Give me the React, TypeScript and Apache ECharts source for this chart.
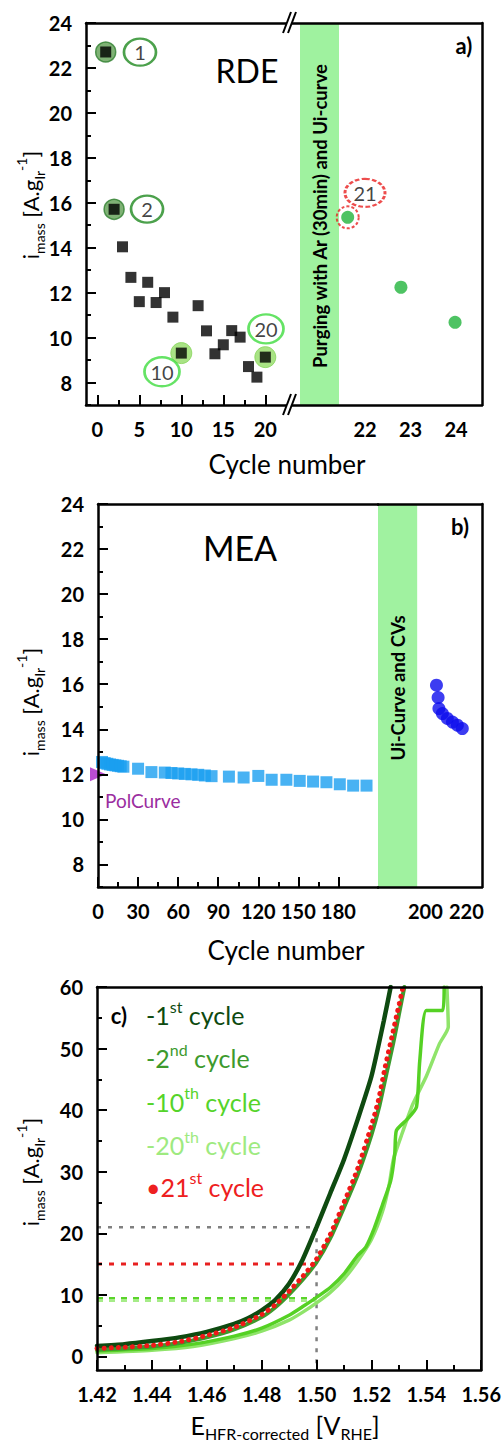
import React, { useEffect, useRef } from "react";
import * as echarts from "echarts";

const FONT = "Lato, 'Open Sans', sans-serif";

// ---------- Panel a (RDE) ----------
const rdeCycles = [1, 2, 3, 4, 5, 6, 7, 8, 9, 10, 12, 13, 14, 15, 16, 17, 18, 19, 20];
const rdeImass = [22.71, 15.71, 14.04, 12.68, 11.6, 12.46, 11.56, 12.0, 10.91, 9.31, 11.42, 10.3, 9.28, 9.68, 10.31, 10.02, 8.71, 8.24, 9.13];
const rdeMarkedEarly = [1, 2];
const rdeMarkedLate = [10, 20];
const rdeAfterCycles = [21.62, 22.79, 23.98];
const rdeAfterImass = [15.35, 12.24, 10.68];
const rdeTagText = ["1", "2", "10", "20"];
const rdeTagX = [5.08, 5.92, 7.7, 20.08];
const rdeTagY = [22.7, 15.72, 8.48, 10.39];
const rdeTag21Pos = [22.0, 16.44];
const rdePurge = [20.572, 21.429];
const rdeXLeft = [-1.345, 22.7];
const rdeXRight = [20.308, 24.572];
const rdeTicksLeft = [0, 5, 10, 15, 20];
const rdeMinorLeft = [2.5, 7.5, 12.5, 17.5];
const rdeTicksRight = [22, 23, 24];
const imassRange = [7, 24];
const imassTicks = [8, 10, 12, 14, 16, 18, 20, 22, 24];
const imassMinor = [7, 9, 11, 13, 15, 17, 19, 21, 23];

// ---------- Panel b (MEA) ----------
const meaCycles = [3, 5, 7, 9, 11, 13, 15, 17, 19, 30, 40, 50, 55, 60, 65, 70, 75, 80, 85, 98, 109, 120, 130, 141, 151, 161, 171, 181, 191, 201];
const meaImass = [12.55, 12.5, 12.47, 12.44, 12.42, 12.4, 12.38, 12.36, 12.34, 12.25, 12.1, 12.08, 12.06, 12.04, 12.02, 12.0, 11.98, 11.95, 11.92, 11.9, 11.86, 11.93, 11.76, 11.76, 11.71, 11.68, 11.65, 11.56, 11.5, 11.5];
const polCycle = [0];
const polImass = [12.0];
const meaAfterCycles = [205.4, 206.2, 206.6, 208.3, 210.7, 213.2, 215.6, 218.0];
const meaAfterImass = [15.96, 15.41, 14.92, 14.7, 14.48, 14.32, 14.18, 14.03];
const meaXLeft = [0, 209.6];
const meaXRight = [176.9, 227.6];
const meaBandEnd = 196;
const meaTicks = [0, 30, 60, 90, 120, 150, 180];
const meaMinor = [15, 45, 75, 105, 135, 165];
const meaTicksRight = [200, 220];

// ---------- Panel c (polarisation curves) ----------
const eRange = [1.42, 1.56];
const iRange = [-2.2, 60];
const eTicks = [1.42, 1.44, 1.46, 1.48, 1.5, 1.52, 1.54, 1.56];
const eMinor = [1.43, 1.45, 1.47, 1.49, 1.51, 1.53, 1.55];
const iTicks = [0, 10, 20, 30, 40, 50, 60];
const iMinor = [5, 15, 25, 35, 45, 55];

const c1E = [1.42, 1.43, 1.44, 1.45, 1.46, 1.47, 1.475, 1.48, 1.485, 1.49, 1.495, 1.5, 1.505, 1.51, 1.515, 1.52, 1.5245, 1.527];
const c1I = [1.7, 2.0, 2.5, 3.1, 4.0, 5.3, 6.2, 7.5, 9.2, 11.8, 15.8, 21.0, 26.5, 32.0, 38.5, 45.5, 54.5, 60];
const c2E = [1.42, 1.43, 1.44, 1.45, 1.46, 1.47, 1.48, 1.485, 1.49, 1.495, 1.5, 1.505, 1.51, 1.515, 1.52, 1.5228, 1.5255, 1.528, 1.53, 1.532];
const c2I = [1.1, 1.3, 1.6, 2.2, 3.1, 4.4, 6.4, 8.0, 10.1, 12.5, 15.3, 19.2, 24.2, 29.5, 36.0, 40.5, 46.0, 51.0, 55.5, 60];
const c10E = [1.42, 1.44, 1.455, 1.47, 1.48, 1.49, 1.495, 1.5, 1.505, 1.51, 1.515, 1.518, 1.521, 1.524, 1.527, 1.5285, 1.5291, 1.533, 1.5364, 1.5376, 1.54, 1.546, 1.5465];
const c10I = [0.9, 1.3, 2.0, 3.3, 4.6, 6.7, 8.1, 9.6, 11.2, 13.4, 16.4, 17.8, 20.8, 24.6, 28.5, 33.0, 36.7, 38.5, 40.5, 48.0, 56.2, 56.2, 60];
const c20E = [1.42, 1.44, 1.455, 1.47, 1.48, 1.49, 1.495, 1.5, 1.505, 1.51, 1.515, 1.52, 1.524, 1.5265, 1.528, 1.531, 1.5351, 1.54, 1.5448, 1.548, 1.5475];
const c20I = [0.6, 1.0, 1.6, 2.9, 4.1, 5.9, 7.2, 8.7, 10.4, 12.6, 15.5, 19.0, 23.5, 28.0, 32.0, 36.0, 41.0, 45.5, 50.8, 53.5, 60];
const c21E = [1.42, 1.43, 1.44, 1.45, 1.46, 1.47, 1.48, 1.485, 1.49, 1.495, 1.5, 1.505, 1.51, 1.515, 1.52, 1.5225, 1.525, 1.5275, 1.5295, 1.5315];
const c21I = [1.3, 1.5, 1.8, 2.4, 3.4, 4.7, 6.8, 8.4, 10.6, 13.0, 15.8, 19.8, 25.0, 30.5, 37.5, 41.5, 47.0, 52.0, 56.0, 60];
const refPotential = 1.5;
const refCurrents = [21, 15, 9.4, 9.1];

// ---------- helpers ----------
const AXL = { color: "#000", width: 2.5 };
const ELLIPSE =
  "path://M50,0C77.6,0,100,22.4,100,50C100,77.6,77.6,100,50,100C22.4,100,0,77.6,0,50C0,22.4,22.4,0,50,0Z";

function baseAxis(o: any) {
  return {
    type: "value",
    z: 10,
    splitLine: { show: false },
    axisLine: { show: false, onZero: false },
    axisTick: { show: false },
    axisLabel: { show: false },
    ...o,
  };
}
function lineAxis(gridIndex: number, position: string, range: number[]) {
  return baseAxis({ gridIndex, position, min: range[0], max: range[1], axisLine: { show: true, onZero: false, lineStyle: AXL } });
}
function labelAxis(gridIndex: number, position: string, range: number[], labels: number[], ticks: boolean, fmt?: (v: number) => string) {
  return baseAxis({
    gridIndex,
    position,
    min: range[0],
    max: range[1],
    axisLine: { show: true, onZero: false, lineStyle: AXL },
    axisTick: ticks
      ? { show: true, inside: true, length: 10, lineStyle: { color: "#000", width: 2 }, customValues: labels }
      : { show: false },
    axisLabel: {
      show: true,
      customValues: labels,
      margin: 14,
      fontFamily: FONT,
      fontSize: 20,
      fontWeight: "bold",
      color: "#000",
      formatter: fmt || ((v: number) => String(v)),
    },
  });
}
function minorAxis(gridIndex: number, position: string, range: number[], ticks: number[]) {
  return baseAxis({
    gridIndex,
    position,
    min: range[0],
    max: range[1],
    axisTick: { show: true, inside: true, length: 5, lineStyle: { color: "#000", width: 2 }, customValues: ticks },
  });
}
function txt(x: number, y: number, text: string, o: any = {}, rotation = 0) {
  return {
    type: "text",
    x,
    y,
    rotation,
    z: 100,
    style: {
      text,
      fontFamily: FONT,
      fontSize: 20,
      fill: "#000",
      textAlign: "center",
      textVerticalAlign: "middle",
      ...o,
    },
  };
}
function breakMark(cx: number, cy: number) {
  return {
    type: "group",
    z: 100,
    children: [
      { type: "polygon", z: 100, shape: { points: [[cx - 6.5, cy + 10], [cx - 1.5, cy + 10], [cx + 6.5, cy - 11], [cx + 1.5, cy - 11]] }, style: { fill: "#fff" } },
      { type: "line", z: 101, shape: { x1: cx - 6.5, y1: cy + 10, x2: cx + 1.5, y2: cy - 11 }, style: { stroke: "#000", lineWidth: 2 } },
      { type: "line", z: 101, shape: { x1: cx - 1.5, y1: cy + 10, x2: cx + 6.5, y2: cy - 11 }, style: { stroke: "#000", lineWidth: 2 } },
    ],
  };
}
const pair = (xs: number[], ys: number[]) => xs.map((x, i) => [x, ys[i]]);

const yNameRich = {
  b: { fontFamily: FONT, fontSize: 22, lineHeight: 32, fill: "#000" },
  s: { fontFamily: FONT, fontSize: 14, lineHeight: 14, verticalAlign: "bottom", fill: "#000" },
  p: { fontFamily: FONT, fontSize: 14, lineHeight: 14, verticalAlign: "top", fill: "#000" },
};
const yNameText = "{b|i}{s|mass}{b| [A.g}{s|Ir}{p|-1}{b|]}";

function legendEntry(y: number, pre: string, sup: string, color: string) {
  return txt(146, y, `{b|${pre}}{p|${sup}}{b| cycle}`, {
    textAlign: "left",
    rich: {
      b: { fontFamily: FONT, fontSize: 25, lineHeight: 34, fill: color },
      p: { fontFamily: FONT, fontSize: 16, lineHeight: 16, verticalAlign: "top", fill: color },
    },
  });
}

function buildOption(): any {
  const grids = [
    { left: 86, top: 23, width: 202, height: 382 },
    { left: 288, top: 23, width: 194, height: 382 },
    { left: 98, top: 504, width: 280, height: 383 },
    { left: 378, top: 504, width: 104, height: 383 },
    { left: 97, top: 987, width: 385, height: 383 },
  ];

  const xAxis = [
    labelAxis(0, "bottom", rdeXLeft, rdeTicksLeft, true), // 0
    minorAxis(0, "bottom", rdeXLeft, rdeMinorLeft), // 1
    lineAxis(0, "top", rdeXLeft), // 2
    labelAxis(1, "bottom", rdeXRight, rdeTicksRight, false), // 3
    lineAxis(1, "top", rdeXRight), // 4
    labelAxis(2, "bottom", meaXLeft, meaTicks, true), // 5
    minorAxis(2, "bottom", meaXLeft, meaMinor), // 6
    lineAxis(2, "top", meaXLeft), // 7
    labelAxis(3, "bottom", meaXRight, meaTicksRight, false), // 8
    lineAxis(3, "top", meaXRight), // 9
    labelAxis(4, "bottom", eRange, eTicks, true, (v: number) => v.toFixed(2)), // 10
    minorAxis(4, "bottom", eRange, eMinor), // 11
    lineAxis(4, "top", eRange), // 12
  ];
  const yAxis = [
    labelAxis(0, "left", imassRange, imassTicks, true), // 0
    minorAxis(0, "left", imassRange, imassMinor), // 1
    lineAxis(1, "right", imassRange), // 2
    labelAxis(2, "left", imassRange, imassTicks, true), // 3
    minorAxis(2, "left", imassRange, imassMinor), // 4
    lineAxis(3, "right", imassRange), // 5
    labelAxis(4, "left", iRange, iTicks, true), // 6
    minorAxis(4, "left", iRange, iMinor), // 7
    lineAxis(4, "right", iRange), // 8
  ];

  const rdePoints = pair(rdeCycles, rdeImass);
  const pick = (cyc: number[]) => rdePoints.filter((p) => cyc.includes(p[0]));

  const curve = (name: string, xs: number[], ys: number[], color: string, width: number, z: number, type: any = "solid") => ({
    name,
    type: "line",
    xAxisIndex: 10,
    yAxisIndex: 6,
    data: pair(xs, ys),
    showSymbol: false,
    smooth: 0.2,
    z,
    silent: true,
    lineStyle: { color, width, type, cap: "round" },
  });
  const ref = (level: number, color: string, dash: number[], width: number) => ({
    type: "line",
    xAxisIndex: 10,
    yAxisIndex: 6,
    data: [[eRange[0], level], [refPotential, level]],
    showSymbol: false,
    silent: true,
    z: 1,
    lineStyle: { color, width, type: dash },
  });

  const series: any[] = [
    // ---- panel a ----
    {
      type: "scatter",
      xAxisIndex: 0,
      yAxisIndex: 0,
      data: pick(rdeMarkedEarly),
      symbol: "circle",
      symbolSize: 20,
      silent: true,
      itemStyle: { color: "#5f9f52", borderColor: "#2f7f2f", borderWidth: 1.5 },
    },
    {
      type: "scatter",
      xAxisIndex: 0,
      yAxisIndex: 0,
      data: pick(rdeMarkedLate),
      symbol: "circle",
      symbolSize: 21,
      silent: true,
      itemStyle: { color: "#93dc66", borderColor: "#86d45a", borderWidth: 1 },
    },
    {
      type: "scatter",
      xAxisIndex: 0,
      yAxisIndex: 0,
      data: rdePoints,
      symbol: "rect",
      symbolSize: 11,
      silent: true,
      itemStyle: { color: "#000" },
    },
    {
      type: "scatter",
      xAxisIndex: 0,
      yAxisIndex: 0,
      symbol: ELLIPSE,
      symbolKeepAspect: false,
      silent: true,
      data: rdeTagText.map((t, i) => ({
        value: [rdeTagX[i], rdeTagY[i]],
        name: t,
        symbolSize: i < 2 ? [32, 27] : [35, 29],
        itemStyle: { borderColor: i < 2 ? "#1f8a1f" : "#3fdc3f" },
      })),
      itemStyle: { color: "rgba(0,0,0,0)", borderWidth: 2.5 },
      label: { show: true, position: "inside", formatter: "{b}", fontFamily: FONT, fontSize: 20, color: "#111" },
    },
    {
      type: "scatter",
      xAxisIndex: 3,
      yAxisIndex: 2,
      data: pair(rdeAfterCycles, rdeAfterImass),
      symbol: "circle",
      symbolSize: 13,
      silent: true,
      itemStyle: { color: "#22b43c" },
      markArea: {
        silent: true,
        itemStyle: { color: "#9ff29f" },
        data: [[{ xAxis: rdePurge[0] }, { xAxis: rdePurge[1] }]],
      },
    },
    {
      type: "scatter",
      xAxisIndex: 3,
      yAxisIndex: 2,
      data: [[rdeAfterCycles[0], rdeAfterImass[0]]],
      symbol: "circle",
      symbolSize: 22,
      silent: true,
      itemStyle: { color: "rgba(0,0,0,0)", borderColor: "#e82020", borderWidth: 2, borderType: [3, 2] },
    },
    {
      type: "scatter",
      xAxisIndex: 3,
      yAxisIndex: 2,
      symbol: ELLIPSE,
      symbolKeepAspect: false,
      silent: true,
      data: [{ value: rdeTag21Pos, name: "21", symbolSize: [40, 28] }],
      itemStyle: { color: "rgba(0,0,0,0)", borderColor: "#e82020", borderWidth: 2.5, borderType: [4, 2] },
      label: { show: true, position: "inside", formatter: "{b}", fontFamily: FONT, fontSize: 20, color: "#111" },
    },
    // ---- panel b ----
    {
      type: "scatter",
      xAxisIndex: 5,
      yAxisIndex: 3,
      data: pair(meaCycles, meaImass),
      symbol: "rect",
      symbolSize: 12,
      silent: true,
      itemStyle: { color: "#1a9ff0" },
    },
    {
      type: "scatter",
      xAxisIndex: 5,
      yAxisIndex: 3,
      data: pair(polCycle, polImass),
      symbol: "triangle",
      symbolRotate: -90,
      symbolSize: [14, 16],
      silent: true,
      itemStyle: { color: "#a81fc8" },
    },
    {
      type: "scatter",
      xAxisIndex: 8,
      yAxisIndex: 5,
      data: pair(meaAfterCycles, meaAfterImass),
      symbol: "circle",
      symbolSize: 13,
      silent: true,
      itemStyle: { color: "#0c0cee" },
      markArea: {
        silent: true,
        itemStyle: { color: "#a0f2a0" },
        data: [[{ xAxis: meaXRight[0] }, { xAxis: meaBandEnd }]],
      },
    },
    // ---- panel c ----
    ref(refCurrents[0], "#808080", [4, 7], 2.5),
    ref(refCurrents[1], "#e82020", [5, 7], 3),
    ref(refCurrents[2], "#5ad42a", [6, 6], 3),
    ref(refCurrents[3], "#a6ec88", [6, 6], 3),
    {
      type: "line",
      xAxisIndex: 10,
      yAxisIndex: 6,
      data: [[refPotential, refCurrents[0]], [refPotential, iRange[0]]],
      showSymbol: false,
      silent: true,
      z: 1,
      lineStyle: { color: "#808080", width: 2.5, type: [4, 7] },
    },
    curve("20th", c20E, c20I, "#8fe46a", 3.5, 2),
    curve("10th", c10E, c10I, "#55d124", 3.5, 3),
    curve("2nd", c2E, c2I, "#3d9a2d", 4, 4),
    curve("1st", c1E, c1I, "#0e4a10", 4.5, 5),
    curve("21st", c21E, c21I, "#f01818", 5, 6, [0.1, 7]),
  ];

  const graphic = [
    breakMark(289.5, 23),
    breakMark(289.5, 405),
    // panel a
    txt(247, 70, "RDE", { fontSize: 32 }),
    txt(464, 45, "a)", { fontSize: 22, fontWeight: "bold" }),
    txt(320, 216, "Purging with Ar (30min) and Ui-curve", { fontSize: 18.5, fontWeight: "bold" }, Math.PI / 2),
    txt(287, 464, "Cycle number", { fontSize: 26 }),
    txt(30, 205, yNameText, { rich: yNameRich }, Math.PI / 2),
    // panel b
    txt(240, 547, "MEA", { fontSize: 34 }),
    txt(460, 526, "b)", { fontSize: 22, fontWeight: "bold" }),
    txt(398, 688, "Ui-Curve and CVs", { fontSize: 18.5, fontWeight: "bold" }, Math.PI / 2),
    txt(105, 800, "PolCurve", { fontSize: 19, fill: "#9b2d9f", textAlign: "left" }),
    txt(286, 950, "Cycle number", { fontSize: 26 }),
    txt(30, 702, yNameText, { rich: yNameRich }, Math.PI / 2),
    // panel c
    txt(119, 1015, "c)", { fontSize: 22, fontWeight: "bold" }),
    legendEntry(1015, "-1", "st", "#0e4a10"),
    legendEntry(1058, "-2", "nd", "#3d9a2d"),
    legendEntry(1101.7, "-10", "th", "#55d42a"),
    legendEntry(1145, "-20", "th", "#9eea80"),
    legendEntry(1186.7, "\u202221", "st", "#ee2020"),
    txt(30, 1172, yNameText, { rich: yNameRich }, Math.PI / 2),
    txt(285, 1425, "{b|E}{s|HFR-corrected}{b| [V}{s|RHE}{b|]}", {
      rich: {
        b: { fontFamily: FONT, fontSize: 25, lineHeight: 32, fill: "#000" },
        s: { fontFamily: FONT, fontSize: 16, lineHeight: 16, verticalAlign: "bottom", fill: "#000" },
      },
    }),
  ];

  return {
    animation: false,
    backgroundColor: "#fff",
    tooltip: { show: false },
    grid: grids,
    xAxis,
    yAxis,
    series,
    graphic,
  };
}

export default function App() {
  const ref = useRef<HTMLDivElement>(null);
  useEffect(() => {
    document.body.style.margin = "0";
    const chart = echarts.init(ref.current!, null, { renderer: "svg" });
    chart.setOption(buildOption());
    return () => chart.dispose();
  }, []);
  return <div ref={ref} style={{ width: 504, height: 1448 }} />;
}
